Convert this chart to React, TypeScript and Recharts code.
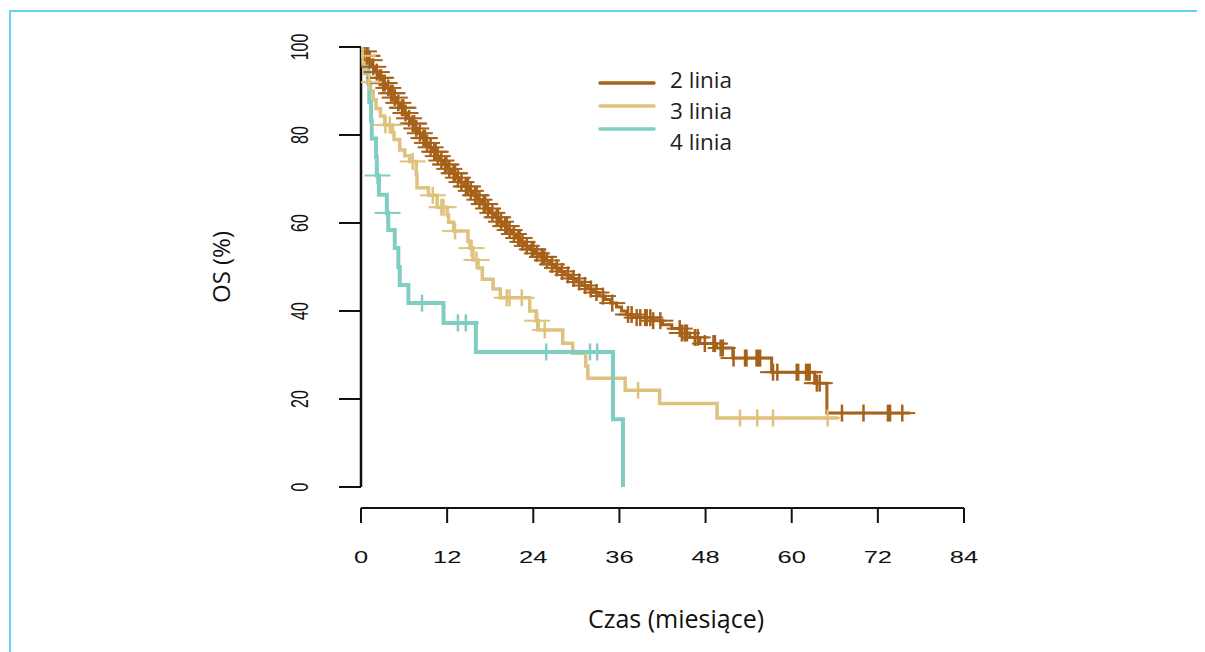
import React from 'react';
import { ComposedChart, Line, Scatter, XAxis, YAxis, ReferenceLine, Legend } from 'recharts';

// ---- tick labels ----
const xTicks = [0, 12, 24, 36, 48, 60, 72, 84];
const yTicks = [0, 20, 40, 60, 80, 100];

// ---- series names / colours ----
const seriesNames = ['2 linia', '3 linia', '4 linia'];
const seriesColors = ['#a6611a', '#dfc27d', '#80cdc1'];

// ---- 2 linia (months, OS %) ----
const line2Times = [0, 0.3, 0.6, 1.0, 1.5, 2.0, 2.5, 3.0, 3.5, 4.0, 4.5, 5.0, 5.5, 6.0, 6.5, 7.0, 7.5, 8.0, 8.5, 9.0,
  9.5, 10.0, 10.5, 11.0, 11.5, 12.0, 12.6, 13.2, 13.8, 14.4, 15.0, 15.6, 16.2, 16.8, 17.4, 18.0, 18.6, 19.2, 19.8, 20.4,
  21.0, 21.6, 22.2, 22.8, 23.5, 24.2, 24.9, 25.6, 26.3, 27.0, 27.7, 28.4, 29.2, 30.0, 30.8, 31.6, 32.4, 33.2, 34.0, 34.8,
  35.6, 36.3, 37.0, 37.8, 40.5, 42.0, 43.3, 44.5, 45.8, 47.2, 49.5, 51.8, 57.2, 63.2, 64.9];
const line2Surv = [100, 99, 98, 97, 95.5, 94.3, 93, 91.8, 90.7, 89.5, 88.5, 87.3, 86.2, 85, 83.8, 82.6, 81.5, 80.4, 79.3, 78.2,
  77.2, 76.2, 75.2, 74.2, 73.3, 72.3, 71.3, 70.3, 69.3, 68.3, 67.3, 66.3, 65.3, 64.3, 63.3, 62.3, 61.3, 60.3, 59.3, 58.4,
  57.5, 56.6, 55.7, 54.8, 54, 53.1, 52.3, 51.5, 50.6, 49.8, 49, 48.2, 47.4, 46.6, 45.8, 45, 44.2, 43.4, 42.6, 41.8,
  40.9, 40, 39.2, 38.5, 37.8, 36.9, 36, 35, 34, 32.6, 31.6, 29.3, 26.1, 23.6, 16.8];
const line2End = 76.5;
const line2Censored = [0.4, 0.8, 0.9, 1.2, 1.7, 2.2, 2.6, 2.8, 3.1, 3.3, 3.8, 4.2, 4.4, 4.7, 5.2, 5.7, 5.9, 6.2, 6.7, 7.2,
  7.4, 7.7, 8.2, 8.7, 8.9, 9.2, 9.7, 10.2, 10.4, 10.7, 11.2, 11.7, 11.9, 12.3, 12.9, 13.1, 13.5, 14.0, 14.6, 14.9,
  15.3, 15.9, 16.1, 16.5, 17.1, 17.3, 17.7, 18.3, 18.9, 19.1, 19.5, 20.1, 20.3, 20.7, 21.3, 21.9, 22.1, 22.5, 23.1, 23.8,
  24.0, 24.5, 25.2, 25.5, 25.9, 26.6, 27.3, 28.0, 28.8, 29.6, 30.4, 31.2, 32.0, 32.8, 33.7, 35.0, 37.2, 37.7, 38.4, 38.9,
  39.6, 39.8, 40.3, 40.7, 41.7, 44.4, 44.7, 45.1, 45.4, 46.5, 46.9, 47.9, 49.1, 49.3, 50.1, 50.4, 51.9, 53.5, 53.7, 55.1,
  55.3, 55.6, 57.4, 58.0, 60.7, 60.9, 62.0, 62.3, 62.5, 63.5, 63.9, 67.0, 70.0, 73.4, 73.7, 75.4];

// ---- 3 linia ----
const line3Times = [0, 0.15, 0.3, 0.5, 0.9, 1.3, 1.7, 2.1, 2.7, 3.3, 4.4, 4.6, 5.4, 6.1, 6.8, 7.7, 7.8, 9.4, 10.6, 12.0,
  12.2, 12.9, 14.9, 15.2, 15.6, 16.3, 16.9, 18.4, 19.4, 23.5, 24.4, 24.7, 28.1, 29.5, 31.3, 31.6, 36.8, 41.6, 49.6];
const line3Surv = [100, 98, 96, 94, 92, 90, 88, 86, 84.3, 82.3, 80.5, 79, 76.6, 75.3, 74, 71, 68, 66.3, 63.6, 61.8,
  60.2, 58.2, 55.8, 54.3, 51.6, 49.8, 47.2, 45, 43, 40, 37.8, 35.7, 32.7, 30.4, 27.5, 24.7, 22, 19, 15.7];
const line3End = 66.5;
const line3Censored = [0.25, 1.1, 3.4, 4.0, 7.2, 10.0, 11.2, 11.5, 13.1, 15.4, 16.1, 20.3, 20.7, 22.4, 24.55, 25.6,
  38.6, 52.8, 55.2, 57.4, 65.0];

// ---- 4 linia ----
const line4Times = [0, 0.95, 1.05, 1.15, 1.4, 1.5, 2.1, 2.2, 2.5, 3.6, 3.8, 4.7, 5.2, 5.4, 6.6, 11.5, 16.0, 35.1, 36.5];
const line4Surv = [100, 95.8, 91.7, 87.5, 83.3, 79.2, 75, 70.8, 66.4, 62.3, 58.4, 54.3, 50, 45.9, 41.8, 37.3, 30.7, 15.4, 0];
const line4End: number | null = null;
const line4Censored = [2.3, 3.7, 8.5, 13.5, 14.6, 25.8, 31.9, 32.9];

type Pt = { t: number; s: number };

function buildSteps(times: number[], surv: number[], end: number | null): Pt[] {
  const pts = times.map((t, i) => ({ t, s: surv[i] }));
  if (end !== null) pts.push({ t: end, s: surv[surv.length - 1] });
  return pts;
}

function survAt(times: number[], surv: number[], t: number): number {
  let v = surv[0];
  for (let i = 0; i < times.length; i++) {
    if (times[i] <= t) v = surv[i];
  }
  return v;
}

function buildCensored(times: number[], surv: number[], cens: number[]): Pt[] {
  return cens.map((t) => ({ t, s: survAt(times, surv, t) }));
}

const steps = [
  buildSteps(line2Times, line2Surv, line2End),
  buildSteps(line3Times, line3Surv, line3End),
  buildSteps(line4Times, line4Surv, line4End),
];
const censored = [
  buildCensored(line2Times, line2Surv, line2Censored),
  buildCensored(line3Times, line3Surv, line3Censored),
  buildCensored(line4Times, line4Surv, line4Censored),
];
const lineWidths = [3, 3.5, 4];

const makePlus = (color: string) => (props: any) => {
  const { cx, cy } = props;
  if (cx == null || cy == null) return <g />;
  return (
    <g>
      <line x1={cx - 13} x2={cx + 13} y1={cy} y2={cy} stroke={color} strokeWidth={2} />
      <line x1={cx} x2={cx} y1={cy - 8.5} y2={cy + 8.5} stroke={color} strokeWidth={2.5} />
    </g>
  );
};

const XTick = (props: any) => {
  const { x, y, payload } = props;
  return (
    <g transform={`translate(${x},${y})`}>
      <text transform="scale(1.5,1)" x={0} y={40} textAnchor="middle" fontFamily="'Liberation Sans', Arial, sans-serif"
        fontSize={17} fill="#111">{payload.value}</text>
    </g>
  );
};

const YTick = (props: any) => {
  const { x, y, payload } = props;
  return (
    <g transform={`translate(${x - 40},${y}) scale(1.55,1) rotate(-90)`}>
      <text x={0} y={0} dy="0.36em" textAnchor="middle" fontFamily="'Liberation Sans', Arial, sans-serif"
        fontSize={16} fill="#111">{payload.value}</text>
    </g>
  );
};

const LegendContent = () => (
  <svg width={180} height={100} style={{ display: 'block', overflow: 'visible' }}>
    {seriesNames.map((n, i) => (
      <g key={n}>
        <line x1={5} x2={59} y1={18 + i * 23} y2={18 + i * 23} stroke={seriesColors[i]} strokeWidth={3.5} strokeLinecap="round" />
        <text x={75} y={23 + i * 31} fontFamily="'Open Sans', 'Noto Sans', sans-serif" fontSize={22.5} fill="#222">{n}</text>
      </g>
    ))}
  </svg>
);

export default function App() {
  return (
    <div style={{ position: 'relative', width: 1197, height: 644 }}>
      <div style={{ position: 'absolute', left: 1, top: 2, right: -8, bottom: -8, borderTop: '2px solid #62d3f5', borderLeft: '2px solid #62d3f5' }} />
      <ComposedChart width={1197} height={644} margin={{ top: 39, right: 241, bottom: 64, left: 273 }}>
        <XAxis dataKey="t" type="number" domain={[0, 84]} ticks={xTicks} interval={0} allowDataOverflow
          axisLine={{ stroke: '#111', strokeWidth: 2 }} tickLine={{ stroke: '#111', strokeWidth: 2 }}
          tickSize={15} tickMargin={0} tick={<XTick />} height={80}
          label={{
            content: (p: any) => {
              const vb = p.viewBox || {};
              return (
                <text x={(vb.x ?? 353) + 315} y={(vb.y ?? 500) + 120} textAnchor="middle"
                  fontFamily="'Open Sans', 'Noto Sans', sans-serif" fontSize={25} fill="#111">Czas (miesiące)</text>
              );
            },
          }}
        />
        <YAxis dataKey="s" type="number" domain={[-4.77, 100]} ticks={yTicks} interval={0} allowDataOverflow
          axisLine={false} tickLine={{ stroke: '#111', strokeWidth: 2 }}
          tickSize={22} tickMargin={0} tick={<YTick />} width={80}
          label={{
            content: (p: any) => {
              const vb = p.viewBox || {};
              const cx = (vb.x ?? 273) - 59;
              const cy = 259;
              return (
                <text transform={`translate(${cx},${cy}) rotate(-90)`} textAnchor="middle" dy="0.35em"
                  fontFamily="'Open Sans', 'Noto Sans', sans-serif" fontSize={24} fill="#111">OS (%)</text>
              );
            },
          }}
        />
        <ReferenceLine segment={[{ x: 0, y: 0 }, { x: 0, y: 100 }]} stroke="#111" strokeWidth={2.5} ifOverflow="visible" />
        {steps.map((d, i) => (
          <Line key={seriesNames[i]} data={d} dataKey="s" name={seriesNames[i]} type="stepAfter" stroke={seriesColors[i]}
            strokeWidth={lineWidths[i]} dot={false} activeDot={false} isAnimationActive={false} />
        ))}
        {censored.map((d, i) => (
          <Scatter key={'c' + i} data={d} dataKey="s" legendType="none" shape={makePlus(seriesColors[i])} isAnimationActive={false} />
        ))}
        <Legend layout="vertical" align="center" verticalAlign="middle" content={<LegendContent />}
          wrapperStyle={{ position: 'absolute', left: 587, top: 57, width: 180, height: 100 }} />
      </ComposedChart>
    </div>
  );
}
